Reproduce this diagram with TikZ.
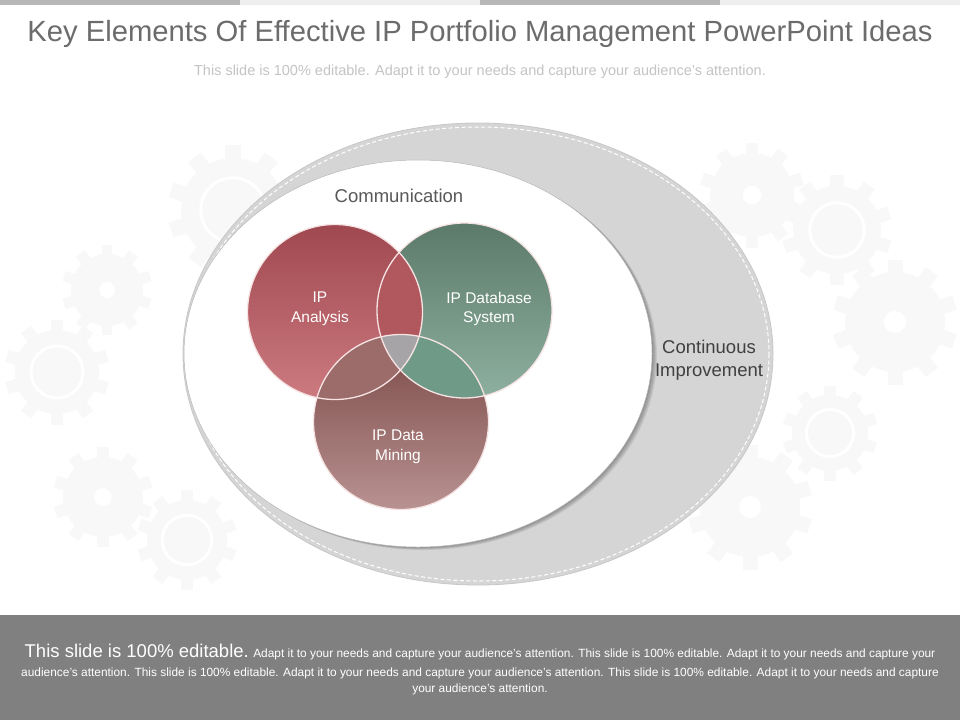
\documentclass[tikz,border=0pt]{standalone}
\usepackage{fontspec}
\setmainfont{Liberation Sans}

\definecolor{titlegray}{RGB}{108,108,108}
\definecolor{subgray}{RGB}{196,196,196}
\definecolor{bardark}{RGB}{184,184,184}
\definecolor{barlight}{RGB}{238,238,238}
\definecolor{ringgray}{RGB}{213,213,213}
\definecolor{bandgray}{RGB}{128,128,128}
\definecolor{commgray}{RGB}{88,88,88}
\definecolor{impgray}{RGB}{64,64,64}
\definecolor{gearcol}{RGB}{248,248,248}
\definecolor{rimpink}{RGB}{246,228,228}
\definecolor{anaTop}{RGB}{160,72,80}
\definecolor{anaBot}{RGB}{204,122,128}
\definecolor{datTop}{RGB}{92,122,105}
\definecolor{datBot}{RGB}{142,176,160}
\definecolor{mngTop}{RGB}{122,72,70}
\definecolor{mngBot}{RGB}{184,146,145}
\definecolor{anaDat}{RGB}{176,88,94}
\definecolor{anaMng}{RGB}{156,108,106}
\definecolor{datMng}{RGB}{112,154,136}
\definecolor{allThree}{RGB}{166,164,166}

\tikzset{
  circtext/.style={text=white, align=center, font=\fontsize{15.5}{19.5}\selectfont},
  bandtext/.style={text=white, anchor=base, font=\fontsize{11.9}{14}\selectfont},
  venn/.style={line width=1.3pt, draw=rimpink},
}

% faint cog in the background: x, y, radius
\newcommand{\cogwheel}[3]{%
  \fill[gearcol] (#1,#2) circle (#3);
  \foreach \a in {0,36,...,324}
    \fill[gearcol, shift={(#1,#2)}, rotate=\a] (-0.15*#3,0) rectangle (0.15*#3,1.25*#3);
}

\begin{document}
\begin{tikzpicture}[x=1pt,y=-1pt]
\useasboundingbox (0,0) rectangle (960,720);
\fill[white] (0,0) rectangle (960,720);

% top strip
\foreach \i/\c in {0/bardark,1/barlight,2/bardark,3/barlight}
  \fill[\c] (240*\i,0) rectangle (240*\i+240,5);

% background cogs
\foreach \gx/\gy/\gr in {107/290/36,103/497/40,752/195/42,895/322/50,750/507/50}{
  \cogwheel{\gx}{\gy}{\gr}
  \fill[white] (\gx,\gy) circle (0.22*\gr);
}
\foreach \gx/\gy/\gr in {57/372/42,187/540/40,233/210/52,837/230/44,830/433/38}{
  \cogwheel{\gx}{\gy}{\gr}
  \draw[white, line width=3pt] (\gx,\gy) circle (0.62*\gr);
}

\node[anchor=base, text=titlegray, font=\fontsize{29.2}{34}\selectfont] (title) at (480,41)
  {Key Elements Of Effective IP Portfolio Management PowerPoint Ideas};
\node[anchor=base, text=subgray, font=\fontsize{14.5}{17}\selectfont] (subtitle) at (480,75)
  {This slide is 100\% editable. Adapt it to your needs and capture your audience's attention.};

% outer ring
\fill[ringgray] (478,354) ellipse [x radius=295, y radius=231];
\draw[black!22, line width=0.8pt] (478,354) ellipse [x radius=295, y radius=231];
\draw[white, line width=1pt, dash pattern=on 4pt off 2.5pt] (478,354) ellipse [x radius=291, y radius=227];

% inner field with its shadow
\foreach \s in {1,...,5}
  \fill[black, opacity=0.07, shift={(\s,0.6*\s)}] (418,353.5) ellipse [x radius=234, y radius=193.5];
\fill[white] (418,353.5) ellipse [x radius=234, y radius=193.5];
\draw[black!28, line width=0.5pt] (418,353.5) ellipse [x radius=234, y radius=193.5];

% venn circles
\coordinate (ana) at (335,312);
\coordinate (dat) at (464.5,310.5);
\coordinate (mng) at (401,422);

\shade[top color=datTop, bottom color=datBot] (dat) circle (87.5);
\shade[top color=anaTop, bottom color=anaBot] (ana) circle (87.5);
\shade[top color=mngTop, bottom color=mngBot] (mng) circle (87.5);
\begin{scope}
  \clip (ana) circle (87.5);
  \fill[anaDat] (dat) circle (87.5);
  \fill[anaMng] (mng) circle (87.5);
\end{scope}
\begin{scope}
  \clip (dat) circle (87.5);
  \fill[datMng] (mng) circle (87.5);
  \clip (ana) circle (87.5);
  \fill[allThree] (mng) circle (87.5);
\end{scope}
\draw[venn] (ana) circle (87.5);
\draw[venn] (dat) circle (87.5);
\draw[venn] (mng) circle (87.5);

\node[circtext] (anaText) at (320,309) {IP\\Analysis};
\node[circtext] (datText) at (489,309) {IP Database\\System};
\node[circtext] (mngText) at (398,447) {IP Data\\Mining};

\node[text=commgray, font=\fontsize{18.5}{22}\selectfont] (comm) at (399,196) {Communication};
\node[text=impgray, align=center, font=\fontsize{18.5}{23}\selectfont] (impr) at (709,360)
  {Continuous\\Improvement};

% footer
\fill[bandgray] (0,615) rectangle (960,720);
\node[bandtext] (band1) at (480,657) {{\fontsize{18.5}{20}\selectfont This slide is 100\% editable.}
  Adapt it to your needs and capture your audience's attention. This slide is 100\% editable. Adapt it to your needs and capture your};
\node[bandtext] (band2) at (480,676.5) {audience's attention. This slide is 100\% editable. Adapt it to your needs and capture your audience's attention. This slide is 100\% editable. Adapt it to your needs and capture};
\node[bandtext] (band3) at (480,692) {your audience's attention.};
\end{tikzpicture}
\end{document}
